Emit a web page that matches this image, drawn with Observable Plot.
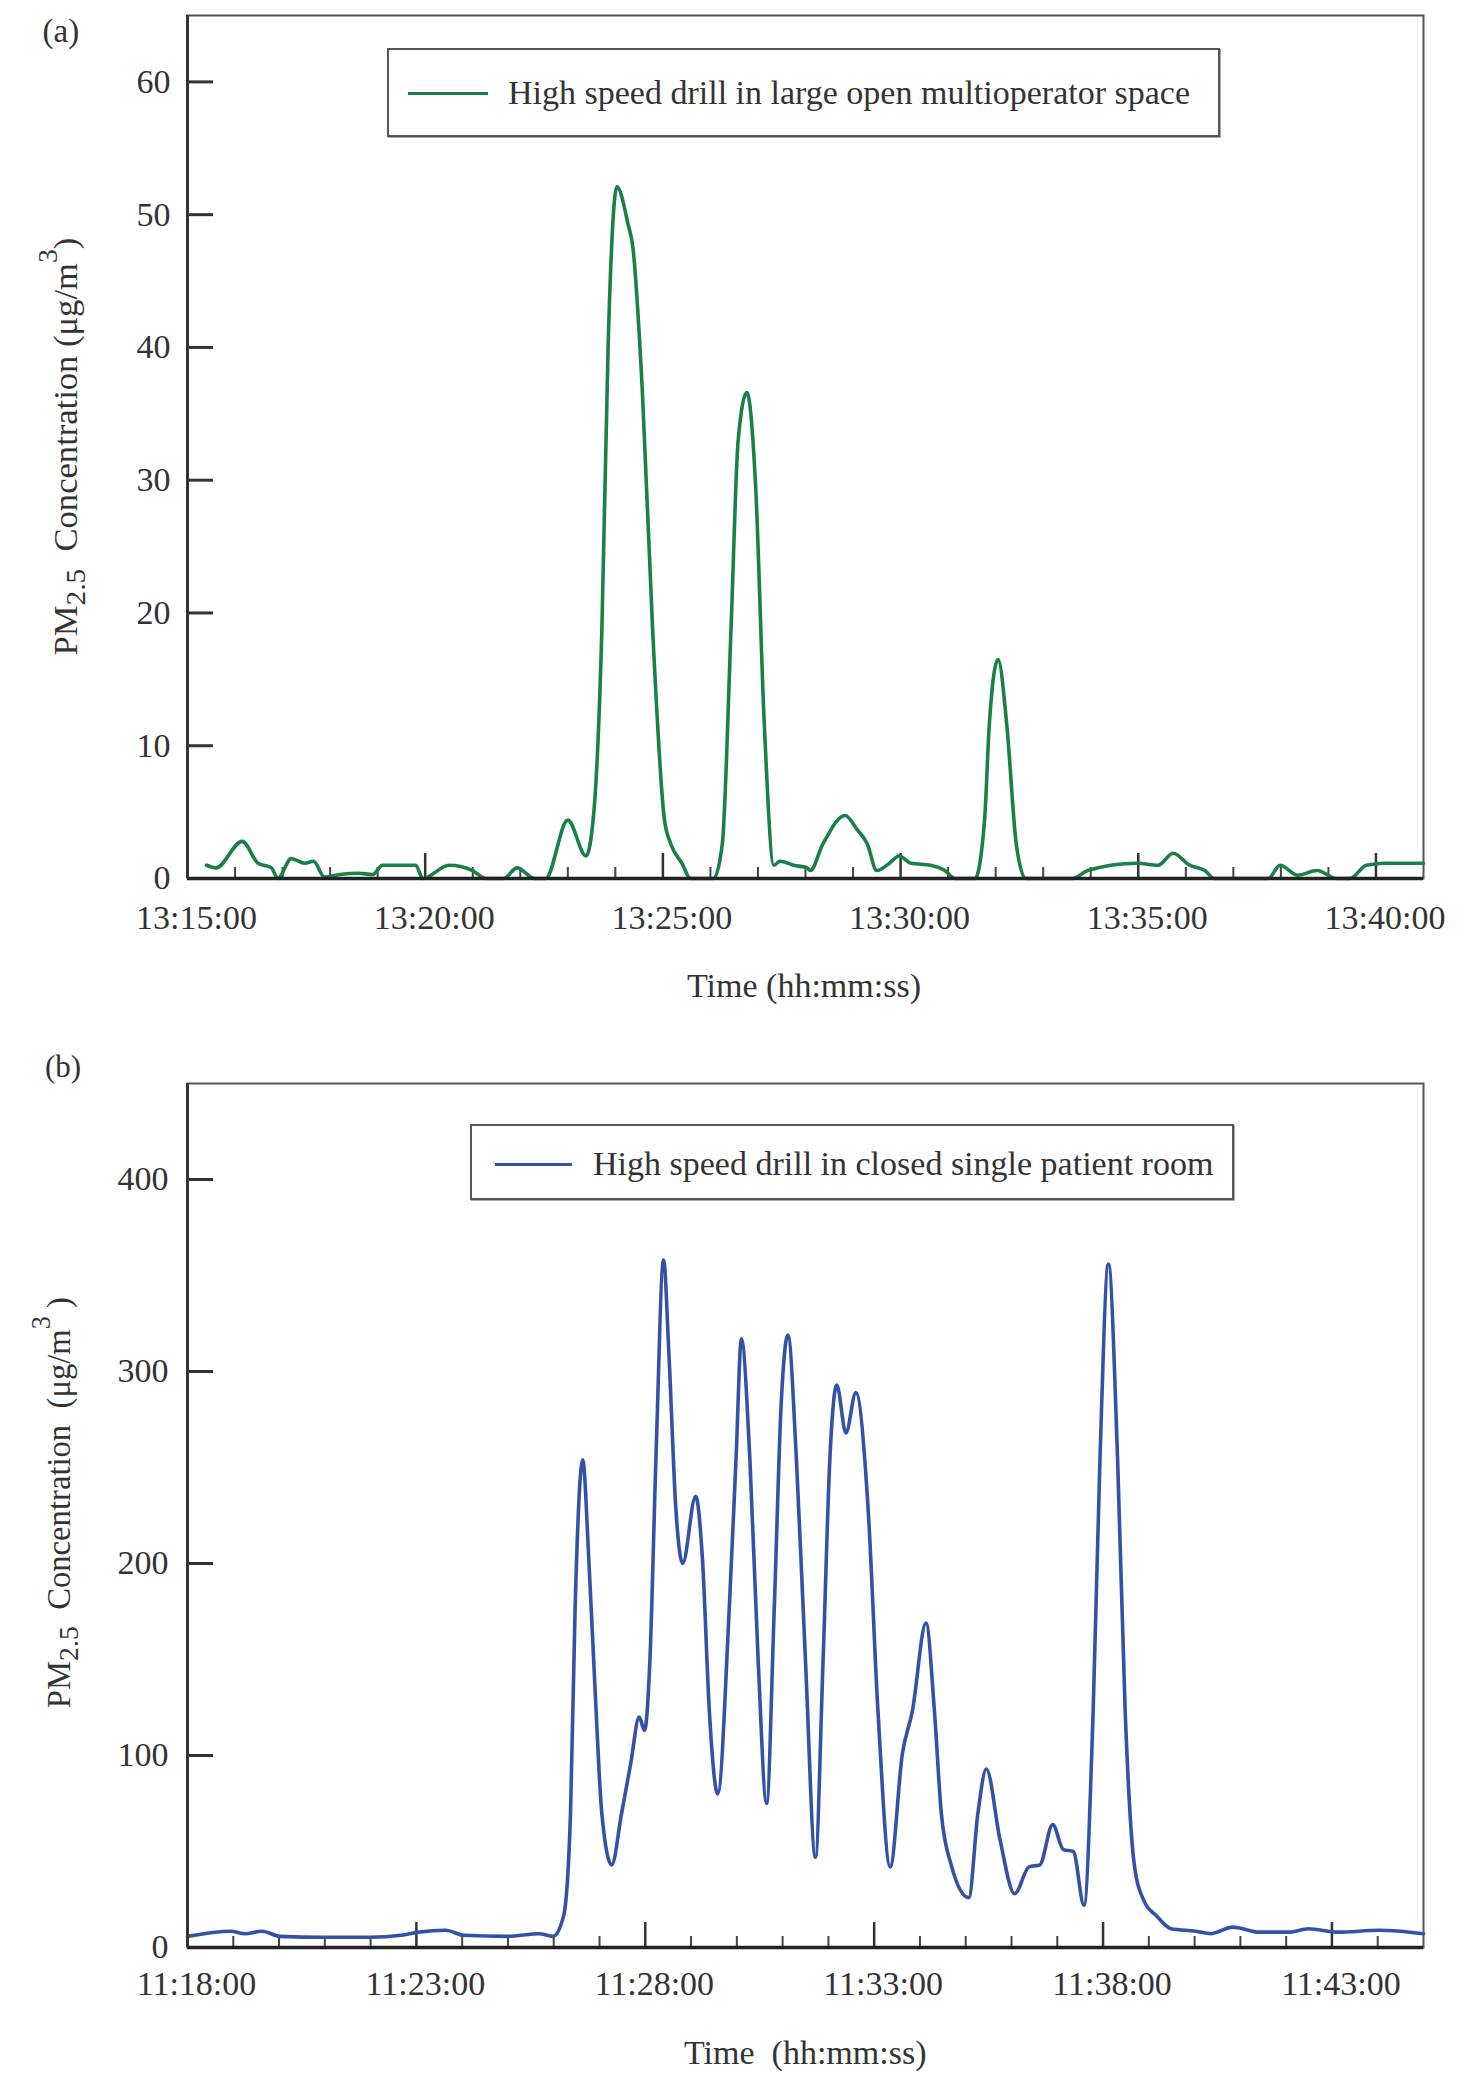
<!DOCTYPE html>
<html>
<head>
<meta charset="utf-8">
<script src="https://cdn.jsdelivr.net/npm/d3@7"></script>
<script src="https://cdn.jsdelivr.net/npm/@observablehq/plot@0.6"></script>
<style>
  html, body { margin: 0; padding: 0; background: #fff; }
  #page { position: relative; width: 1466px; height: 2081px; overflow: hidden;
          font-family: "Liberation Serif", "Times New Roman", serif; color: #333; }
  .abs { position: absolute; white-space: pre; line-height: 1; }
  .svgwrap { position: absolute; left: 0; }
  .legend { position: absolute; border: 2px solid #555; background: #fff; box-sizing: border-box;
            box-shadow: 1px 1px 0 #aaa; }
  .legend .swatch { position: absolute; height: 0; border-top-style: solid; border-top-width: 3px; }
  .legend .ltext { position: absolute; font-size: 34px; white-space: pre; line-height: 1; color: #333; }
  .ytitle { position: absolute; font-size: 33px; white-space: pre; line-height: 1; transform-origin: 50% 50%; }
  .ytitle sub { font-size: 0.85em; vertical-align: -0.3em; }
  .ytitle sup { font-size: 0.8em; vertical-align: 0.75em; }
</style>
</head>
<body>
<div id="page"></div>
<script>
// ---------------- data ----------------
// Panel (a): high speed drill in large open multioperator space
const timesA = [
  "13:15:24","13:15:36","13:16:09","13:16:29","13:16:46","13:16:54","13:17:11","13:17:28","13:17:39","13:17:53",
  "13:18:12","13:18:36","13:18:54","13:19:06","13:19:48","13:19:57","13:20:30","13:21:00","13:21:16","13:21:39",
  "13:21:56","13:22:18","13:22:32","13:23:00","13:23:23","13:23:33","13:23:43","13:23:51","13:24:02","13:24:16",
  "13:24:22","13:24:34","13:24:47","13:25:02","13:25:10","13:25:24","13:25:35","13:26:04","13:26:15","13:26:26",
  "13:26:35","13:26:46","13:26:57","13:27:08","13:27:20","13:27:28","13:27:45","13:28:02","13:28:06","13:28:22",
  "13:28:50","13:29:05","13:29:18","13:29:30","13:29:46","13:29:58","13:30:13","13:30:38","13:30:56","13:31:09",
  "13:31:34","13:31:46","13:31:52","13:32:03","13:32:14","13:32:26","13:32:38","13:33:37","13:33:56","13:34:58",
  "13:35:25","13:35:44","13:36:05","13:36:24","13:36:36","13:37:44","13:37:59","13:38:21","13:38:46","13:39:10",
  "13:39:27","13:39:48","13:40:12","13:41:00"
];
const valuesA = [
  1.0, 0.8, 2.8, 1.15, 0.8, 0.0, 1.5, 1.15, 1.3, 0.1,
  0.3, 0.4, 0.3, 1.0, 1.0, 0.0, 1.0, 0.6, 0.0, 0.0,
  0.8, 0.0, 0.0, 4.4, 1.7, 5.1, 18.8, 40.4, 52.1, 49.3,
  47.6, 36.8, 18.8, 4.4, 2.6, 1.15, 0.0, 0.0, 2.6, 18.8,
  33.0, 36.6, 29.6, 11.6, 1.0, 1.3, 1.0, 0.8, 0.6, 2.6,
  4.75, 3.7, 2.6, 0.6, 1.15, 1.7, 1.15, 1.0, 0.6, 0.0,
  0.0, 4.4, 11.6, 16.5, 11.6, 2.6, 0.0, 0.0, 0.6, 1.15,
  1.0, 1.9, 1.0, 0.6, 0.0, 0.0, 1.0, 0.25, 0.6, 0.0,
  0.0, 1.0, 1.15, 1.15
];

// Panel (b): high speed drill in closed single patient room
const timesB = [
  "11:18:00","11:18:57","11:19:15","11:19:38","11:20:01","11:21:00","11:22:00","11:22:40","11:23:03","11:23:38",
  "11:24:02","11:25:00","11:25:41","11:25:59","11:26:13","11:26:22","11:26:28","11:26:38","11:26:46","11:26:54",
  "11:27:03","11:27:16","11:27:29","11:27:41","11:27:52","11:27:59","11:28:06","11:28:14","11:28:24","11:28:31",
  "11:28:40","11:28:49","11:29:06","11:29:15","11:29:24","11:29:35","11:29:50","11:29:59","11:30:06","11:30:17",
  "11:30:28","11:30:39","11:30:49","11:30:58","11:31:07","11:31:18","11:31:30","11:31:43","11:31:53","11:32:02",
  "11:32:11","11:32:23","11:32:36","11:32:52","11:33:05","11:33:21","11:33:37","11:33:50","11:34:08","11:34:19",
  "11:34:28","11:34:41","11:35:04","11:35:16","11:35:27","11:35:45","11:36:04","11:36:23","11:36:37","11:36:54",
  "11:37:08","11:37:21","11:37:35","11:37:47","11:37:56","11:38:07","11:38:19","11:38:29","11:38:41","11:38:54",
  "11:39:10","11:39:29","11:40:02","11:40:21","11:40:50","11:41:25","11:42:04","11:42:29","11:43:08","11:44:02",
  "11:45:00"
];
const valuesB = [
  5.8, 8.5, 7.2, 8.5, 5.8, 5.3, 5.3, 6.4, 8.0, 9.0,
  6.4, 5.8, 7.2, 5.8, 16.5, 70, 176, 254, 202, 136,
  70, 43, 70, 96, 120, 113, 149, 255, 358, 309,
  229, 200, 235, 202, 123, 80, 176, 255, 317, 255,
  149, 75, 176, 282, 319, 255, 149, 47, 149, 255,
  293, 268, 289, 229, 123, 42, 101, 123, 169, 123,
  70, 43, 26, 70, 93, 56, 28, 42, 43, 64,
  51, 50, 22, 123, 255, 356, 255, 123, 43, 24,
  16.5, 9.8, 8.5, 7.2, 10.6, 8.0, 8.0, 9.8, 8.0, 9.0,
  7.2
];

// axes
const xDomainA = ["13:15:00", "13:41:00"];
const xDomainB = ["11:18:00", "11:45:00"];
const xLabelsA = ["13:15:00","13:20:00","13:25:00","13:30:00","13:35:00","13:40:00"];
const xLabelsB = ["11:18:00","11:23:00","11:28:00","11:33:00","11:38:00","11:43:00"];
const yTicksA = [0, 10, 20, 30, 40, 50, 60];
const yTicksB = [0, 100, 200, 300, 400];
const yDomainA = [0, 65];
const yDomainB = [0, 450];

const seriesA = "High speed drill in large open multioperator space";
const seriesB = "High speed drill in closed single patient room";
const colorA = "#1a8049";
const colorB = "#3351a6";

// ---------------- helpers ----------------
const toDate = s => new Date("2000-01-01T" + s + "Z");
const fmt = d3.utcFormat("%H:%M:%S");
const page = document.getElementById("page");

function minuteTicks(domain) {
  return d3.utcMinute.range(toDate(domain[0]), toDate(domain[1]));
}

function panel({times, values, xDomain, xLabels, yTicks, yDomain, color, top, height, marginTop, marginBottom, yLabelDx, xLabelDy}) {
  const width = 1466, marginLeft = 187, marginRight = 43;
  const plotW = width - marginLeft - marginRight;
  const plotH = height - marginTop - marginBottom;
  const data = times.map((t, i) => ({t: toDate(t), v: values[i]}));
  const major = xLabels.map(toDate);
  const majorSet = new Set(major.map(d => +d));
  const minor = minuteTicks(xDomain).filter(d => !majorSet.has(+d));
  const svg = Plot.plot({
    width, height, marginLeft, marginRight, marginTop, marginBottom,
    x: {type: "utc", domain: xDomain.map(toDate), axis: null},
    y: {domain: yDomain, axis: null},
    style: {fontFamily: "'Liberation Serif', 'Times New Roman', serif", color: "#333", background: "transparent", overflow: "visible"},
    marks: [
      Plot.frame({stroke: "#555", strokeWidth: 2}),
      Plot.tickY(yTicks, {y: d => d, insetRight: plotW - 26, stroke: "#333", strokeWidth: 3}),
      Plot.tickX(major, {x: d => d, insetTop: plotH - 25, stroke: "#333", strokeWidth: 2.5}),
      Plot.tickX(minor, {x: d => d, insetTop: plotH - 11, stroke: "#444", strokeWidth: 2}),
      Plot.line(data, {x: "t", y: "v", curve: "monotone-x", stroke: color, strokeWidth: 3.6, strokeLinejoin: "round"}),
      Plot.ruleY([yDomain[0]], {stroke: "#222", strokeWidth: 3.5}),
      Plot.ruleX([toDate(xDomain[0])], {stroke: "#333", strokeWidth: 3}),
      Plot.text(major, {x: d => d, frameAnchor: "bottom", text: d => fmt(d), lineAnchor: "top", dx: 9, dy: xLabelDy, fontSize: 34, fill: "#333"}),
      Plot.text(yTicks, {y: d => d, frameAnchor: "left", text: d => String(d), textAnchor: "end", dx: yLabelDx, fontSize: 34, fill: "#333"})
    ]
  });
  const wrap = document.createElement("div");
  wrap.className = "svgwrap";
  wrap.style.top = top + "px";
  wrap.appendChild(svg);
  page.appendChild(wrap);
}

function addText(html, cx, cy, size) {
  const el = document.createElement("div");
  el.className = "abs";
  el.style.fontSize = size + "px";
  el.innerHTML = html;
  page.appendChild(el);
  el.style.left = (cx - el.offsetWidth / 2) + "px";
  el.style.top = (cy - el.offsetHeight / 2) + "px";
  return el;
}

function addYTitle(html, cx, cy, targetLen) {
  const el = document.createElement("div");
  el.className = "ytitle";
  el.innerHTML = html;
  page.appendChild(el);
  const w = el.offsetWidth, h = el.offsetHeight;
  const s = targetLen / w;
  el.style.left = (cx - w / 2) + "px";
  el.style.top = (cy - h / 2) + "px";
  el.style.transform = `rotate(-90deg) scaleX(${s.toFixed(3)})`;
}

function addLegend(label, color, box, sw, textLeft, cy) {
  const lg = document.createElement("div");
  lg.className = "legend";
  lg.style.left = box.x + "px"; lg.style.top = box.y + "px";
  lg.style.width = box.w + "px"; lg.style.height = box.h + "px";
  const s = document.createElement("div");
  s.className = "swatch";
  s.style.borderTopColor = color;
  s.style.left = (sw[0] - box.x - 2) + "px";
  s.style.width = (sw[1] - sw[0]) + "px";
  s.style.top = (cy - box.y - 2 - 1.5) + "px";
  lg.appendChild(s);
  const t = document.createElement("div");
  t.className = "ltext";
  t.textContent = label;
  lg.appendChild(t);
  page.appendChild(lg);
  t.style.left = (textLeft - box.x - 2) + "px";
  t.style.top = (cy - box.y - 2 - t.offsetHeight / 2) + "px";
}

// ---------------- panel (a) ----------------
panel({times: timesA, values: valuesA, xDomain: xDomainA, xLabels: xLabelsA, yTicks: yTicksA, yDomain: yDomainA,
       color: colorA, top: 0, height: 1000, marginTop: 15, marginBottom: 122, yLabelDx: -17, xLabelDy: 26});
addLegend(seriesA, colorA, {x: 387, y: 48, w: 833, h: 89}, [408, 488], 508, 93);
addText("(a)", 61, 31, 33);
addText("Time (hh:mm:ss)", 804, 986, 34);
addYTitle("PM<sub>2.5</sub>&nbsp; Concentration (μg/m<sup>3</sup>)", 62, 446, 418);

// ---------------- panel (b) ----------------
panel({times: timesB, values: valuesB, xDomain: xDomainB, xLabels: xLabelsB, yTicks: yTicksB, yDomain: yDomainB,
       color: colorB, top: 1000, height: 1081, marginTop: 83, marginBottom: 134, yLabelDx: -19, xLabelDy: 23});
addLegend(seriesB, colorB, {x: 470, y: 1124, w: 764, h: 76}, [495, 572], 593, 1164);
addText("(b)", 63, 1066, 31);
addText("Time  (hh:mm:ss)", 805, 2053, 34);
addYTitle("PM<sub>2.5</sub>&nbsp; Concentration&nbsp; (μg/m<sup>3</sup>&nbsp;)", 55, 1502, 411);
</script>
</body>
</html>
